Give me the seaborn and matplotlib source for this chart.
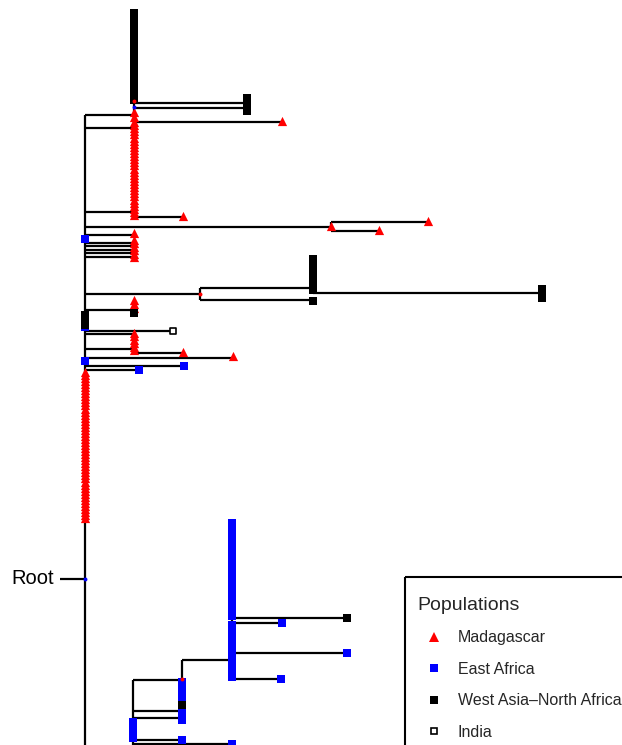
import numpy as np
import pandas as pd
import matplotlib
matplotlib.use("Agg")
import matplotlib.pyplot as plt
from matplotlib.lines import Line2D
from matplotlib.patches import Rectangle
import seaborn as sns

sns.set_theme(style="white")
plt.rcParams['font.family'] = ['Liberation Sans', 'DejaVu Sans']

# ---------------- data (tree drawn in layout units: x = distance, y = tip order) -------------
# horizontal branches
h_x0 = [134, 134, 85, 134, 85, 85, 134, 331, 331, 85, 85, 85, 85, 85, 85, 85,
        200, 200, 313, 85, 85, 85, 85, 134, 85, 85, 85, 85, 60,
        133, 133, 133, 133, 133, 182, 232, 232, 232, 232]
h_x1 = [247, 247, 134, 282, 134, 134, 183, 428, 379, 331, 134, 134, 134, 134, 134, 134,
        313, 313, 542, 200, 134, 173, 134, 183, 134, 233, 184, 139, 85,
        182, 182, 182, 182, 232, 232, 347, 282, 347, 281]
h_y = [103, 108, 115, 122, 128, 212, 217, 222, 231, 227, 235, 243, 246, 250, 253, 257,
       288, 300, 293, 294, 310, 331, 334, 353, 349, 358, 366, 370, 579,
       680, 711, 718, 740, 744, 660, 618, 623, 653, 679]
# vertical connectors
v_x = [85, 134, 331, 200, 313, 134, 134, 133, 182, 232, 247]
v_y0 = [115, 100, 222, 288, 288, 303, 333, 680, 660, 520, 103]
v_y1 = [760, 217, 231, 300, 293, 313, 353, 760, 722, 680, 108]

# stacked identical samples: x, first y, last y, count, population
stack_x = [134, 247, 134, 134, 134, 134, 134, 85, 313, 542, 85, 232, 232, 232, 182, 182, 133]
stack_y0 = [13, 98, 112, 122, 240, 300, 333, 315, 259, 289, 372, 523, 625, 656, 682, 710, 722]
stack_y1 = [100, 111, 117, 215, 257, 308, 350, 325, 290, 298, 518, 616, 651, 677, 700, 720, 738]
stack_n = [30, 5, 2, 31, 6, 3, 6, 4, 11, 4, 49, 32, 9, 8, 6, 4, 6]
stack_pop = ["West Asia–North Africa", "West Asia–North Africa", "Madagascar", "Madagascar",
             "Madagascar", "Madagascar", "Madagascar", "West Asia–North Africa",
             "West Asia–North Africa", "West Asia–North Africa", "Madagascar",
             "East Africa", "East Africa", "East Africa", "East Africa", "East Africa",
             "East Africa"]

# single tips
tip_x = [282, 183, 331, 428, 379, 134, 183, 233,
         85, 85, 85, 184, 139, 282, 347, 281, 182, 232,
         347, 313, 134, 182, 173]
tip_y = [121, 216, 226, 221, 230, 233, 352, 356,
         239, 327, 361, 366, 370, 623, 653, 679, 740, 744,
         618, 301, 313, 705, 331]
tip_pop = ["Madagascar"] * 8 + ["East Africa"] * 10 + ["West Asia–North Africa"] * 4 + ["India"]

# internal-node dots
node_x = [134, 85, 134, 200, 182]
node_y = [107, 579, 101, 294, 679]
node_c = ["blue", "blue", "red", "red", "red"]

populations = ["Madagascar", "East Africa", "West Asia–North Africa", "India"]
pop_color = {"Madagascar": "red", "East Africa": "blue",
             "West Asia–North Africa": "black", "India": "white"}
pop_marker = {"Madagascar": "^", "East Africa": "s",
              "West Asia–North Africa": "s", "India": "s"}
pop_size = {"Madagascar": 44, "East Africa": 30, "West Asia–North Africa": 30, "India": 22}

# ---------------- build point table ----------------
rows = []
for x, y0, y1, n, p in zip(stack_x, stack_y0, stack_y1, stack_n, stack_pop):
    for y in np.linspace(y0, y1, n):
        rows.append((x, y, p))
for x, y, p in zip(tip_x, tip_y, tip_pop):
    rows.append((x, y, p))
pts = pd.DataFrame(rows, columns=["x", "y", "pop"])

# ---------------- draw ----------------
fig = plt.figure(figsize=(6.22, 7.45), dpi=100)
ax = fig.add_axes([0, 0, 1, 1])
ax.set_xlim(0, 622)
ax.set_ylim(745, 0)
ax.axis("off")

ax.hlines(h_y, h_x0, h_x1, color="black", linewidth=1.6, zorder=1)
ax.vlines(v_x, v_y0, v_y1, color="black", linewidth=1.6, zorder=1)

for p in populations:
    sub = pts[pts["pop"] == p]
    if p == "India":
        sns.scatterplot(data=sub, x="x", y="y", marker="s", s=pop_size[p],
                        color="white", edgecolor="black", linewidth=1.2, ax=ax, zorder=3)
    else:
        sns.scatterplot(data=sub, x="x", y="y", marker=pop_marker[p], s=pop_size[p],
                        color=pop_color[p], linewidth=0, ax=ax, zorder=3)

nodes = pd.DataFrame({"x": node_x, "y": node_y, "c": node_c})
for c in ["blue", "red"]:
    sub = nodes[nodes["c"] == c]
    sns.scatterplot(data=sub, x="x", y="y", s=8, color=c, linewidth=0, ax=ax, zorder=4)

ax.text(54, 578, "Root", ha="right", va="center", fontsize=14.5, color="black")

# legend frame (extends beyond the figure edge, as in the original)
ax.add_patch(Rectangle((405, 577), 400, 400, fill=False, edgecolor="black",
                       linewidth=1.5, zorder=5))

handles = [
    Line2D([], [], marker="^", color="red", linestyle="none", markersize=6.5, markeredgewidth=0),
    Line2D([], [], marker="s", color="blue", linestyle="none", markersize=5.5, markeredgewidth=0),
    Line2D([], [], marker="s", color="black", linestyle="none", markersize=5.5, markeredgewidth=0),
    Line2D([], [], marker="s", markerfacecolor="white", markeredgecolor="black",
           linestyle="none", markersize=5, markeredgewidth=1.2),
]
leg = ax.legend(handles, populations, title="Populations", loc="upper left",
                bbox_to_anchor=(405 / 622, 1 - 584 / 745), bbox_transform=ax.transAxes,
                fontsize=11.5, title_fontsize=14, frameon=False,
                borderpad=0.8, handlelength=2.0, handletextpad=0.5, labelspacing=1.03,
                borderaxespad=0, alignment="left")

fig.savefig("out.png", dpi=100)
